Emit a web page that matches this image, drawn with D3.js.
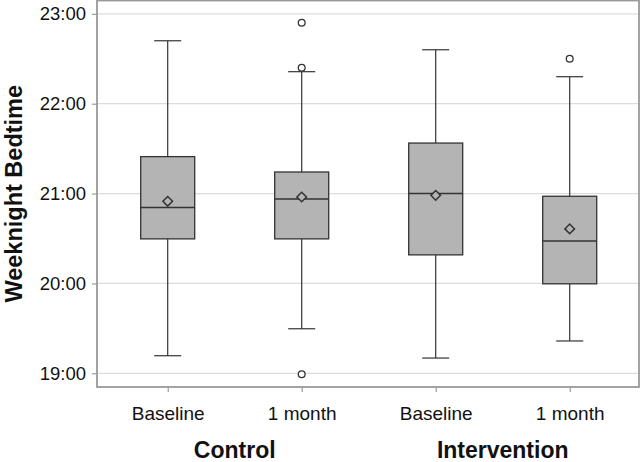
<!DOCTYPE html>
<html><head><meta charset="utf-8">
<script src="https://cdn.jsdelivr.net/npm/d3@7"></script>
<style>body{margin:0;background:#fff}svg{display:block}text{font-family:"Liberation Sans",Arial,sans-serif}</style>
</head><body>
<svg id="c" width="641" height="462"></svg>
<script>
// Data (hours, decimal)
const categories = ["Control|Baseline","Control|1 month","Intervention|Baseline","Intervention|1 month"];
const tickLabels = ["Baseline","1 month","Baseline","1 month"];
const groups = ["Control","Intervention"];
const whiskerLow  = [19.196, 19.496, 19.17, 19.36];
const q1          = [20.496, 20.496, 20.318, 19.996];
const median      = [20.845, 20.94, 21.0, 20.473];
const q3          = [21.411, 21.24, 21.562, 20.97];
const whiskerHigh = [22.70, 22.356, 22.60, 22.30];
const means       = [20.914, 20.962, 20.98, 20.607];
const outliers    = [[], [22.9, 22.4, 18.99], [], [22.5]];
const yTicks = [19, 20, 21, 22, 23];

const svg = d3.select("#c");
const L = 97, R = 639, T = 0.5, B = 387;
const y = d3.scaleLinear().domain([18.848, 23.148]).range([B, T]);
const x = d3.scalePoint().domain(categories).range([167.7, 569.7]);
const boxW = 54, capW = 27;
const dark = "#333";

// gridlines
svg.append("g").selectAll("line").data(yTicks).join("line")
  .attr("x1", L).attr("x2", R).attr("y1", d => y(d)).attr("y2", d => y(d))
  .attr("stroke", "#dcdcdc").attr("stroke-width", 1.2);

// y axis
const yAxis = d3.axisLeft(y).tickValues(yTicks).tickSize(5).tickPadding(6)
  .tickFormat(d => d3.format("02d")(d) + ":00");
const ga = svg.append("g").attr("transform", `translate(${L},0)`).call(yAxis);
ga.select(".domain").remove();
ga.selectAll(".tick line").attr("stroke", "#888");
ga.selectAll(".tick text").attr("font-size", 18.5).attr("fill", "#111");

// x axis
const xAxis = d3.axisBottom(x).tickSize(5).tickPadding(15).tickFormat((d, i) => tickLabels[i]);
const gx = svg.append("g").attr("transform", `translate(0,${B})`).call(xAxis);
gx.select(".domain").remove();
gx.selectAll(".tick line").attr("stroke", "#888");
gx.selectAll(".tick text").attr("font-size", 19).attr("fill", "#111");

// frame
svg.append("rect").attr("x", L).attr("y", T).attr("width", R - L).attr("height", B - T)
  .attr("fill", "none").attr("stroke", "#999").attr("stroke-width", 1.8);

// boxes
const g = svg.append("g");
categories.forEach((c, i) => {
  const cx = x(c);
  g.append("line").attr("x1", cx).attr("x2", cx).attr("y1", y(whiskerLow[i])).attr("y2", y(q1[i])).attr("stroke", dark).attr("stroke-width", 1.2);
  g.append("line").attr("x1", cx).attr("x2", cx).attr("y1", y(q3[i])).attr("y2", y(whiskerHigh[i])).attr("stroke", dark).attr("stroke-width", 1.2);
  [whiskerLow[i], whiskerHigh[i]].forEach(v => {
    g.append("line").attr("x1", cx - capW / 2).attr("x2", cx + capW / 2).attr("y1", y(v)).attr("y2", y(v)).attr("stroke", dark).attr("stroke-width", 1.2);
  });
  g.append("rect").attr("x", cx - boxW / 2).attr("y", y(q3[i])).attr("width", boxW).attr("height", y(q1[i]) - y(q3[i]))
    .attr("fill", "#b4b4b4").attr("stroke", dark).attr("stroke-width", 1.3);
  g.append("line").attr("x1", cx - boxW / 2).attr("x2", cx + boxW / 2).attr("y1", y(median[i])).attr("y2", y(median[i])).attr("stroke", dark).attr("stroke-width", 1.5);
  const my = y(means[i]), h = 4.8;
  g.append("path").attr("d", `M${cx},${my - h}L${cx + h},${my}L${cx},${my + h}L${cx - h},${my}Z`)
    .attr("fill", "#b4b4b4").attr("stroke", dark).attr("stroke-width", 1.5);
  outliers[i].forEach(v => {
    g.append("circle").attr("cx", cx).attr("cy", y(v)).attr("r", 3.4).attr("fill", "#fff").attr("stroke", dark).attr("stroke-width", 1.3);
  });
});

// group labels
groups.forEach((gr, k) => {
  const a = x(categories[k * 2]), b = x(categories[k * 2 + 1]);
  svg.append("text").attr("x", (a + b) / 2).attr("y", 458).attr("text-anchor", "middle")
    .attr("font-size", 23).attr("font-weight", "bold").attr("fill", "#111").text(gr);
});

// y title
svg.append("text").attr("transform", `translate(22,${(y(23.148) + y(18.848)) / 2}) rotate(-90)`)
  .attr("text-anchor", "middle").attr("font-size", 23.5).attr("font-weight", "bold").attr("fill", "#111")
  .text("Weeknight Bedtime");
</script>
</body></html>
